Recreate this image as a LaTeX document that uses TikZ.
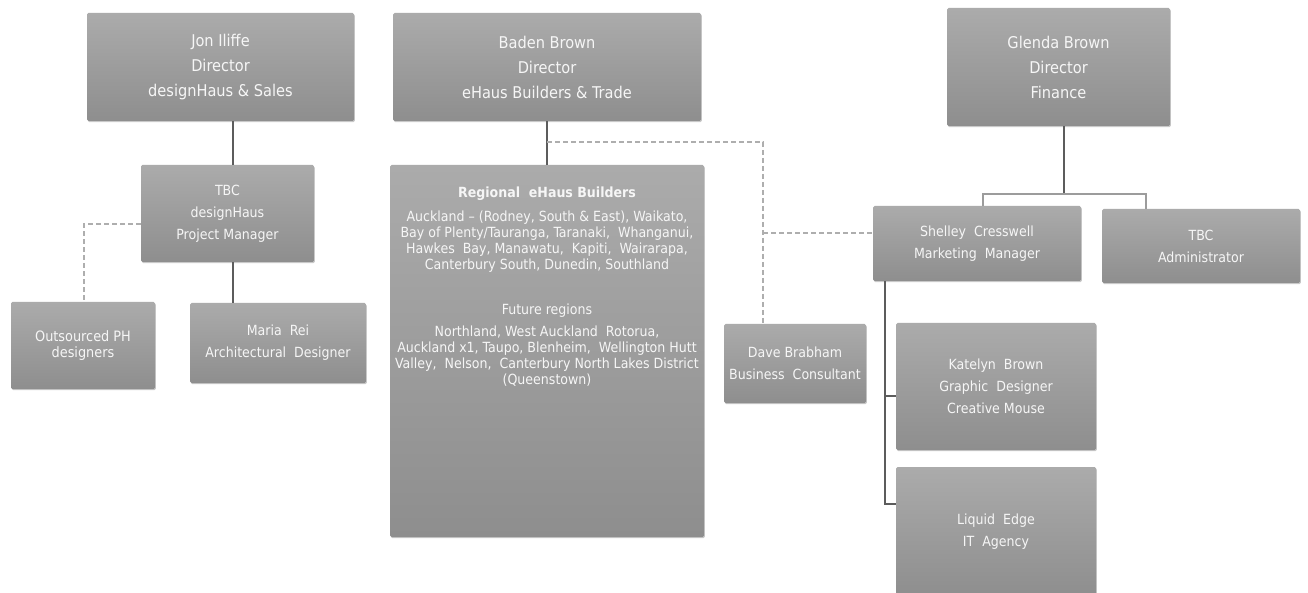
\documentclass[tikz,border=0pt]{standalone}
\usepackage{fontspec}
\setmainfont{DejaVu Sans Condensed}
\usetikzlibrary{shadows,calc}
\definecolor{boxtop}{HTML}{ABABAB}
\definecolor{boxbot}{HTML}{8E8E8E}
\definecolor{txt}{HTML}{F6F6F6}
\definecolor{solidln}{HTML}{5C5C5C}
\definecolor{lightln}{HTML}{9C9C9C}
\definecolor{dashln}{HTML}{AEAEAE}
\tikzset{
 orgbox/.style={rectangle, rounded corners=1.5pt, top color=boxtop, bottom color=boxbot, draw=none, text=txt, align=center, inner sep=0pt,
   drop shadow={shadow xshift=0.8pt, shadow yshift=-1.2pt, opacity=0.3, fill=black!70}},
 bigtxt/.style={font=\fontsize{16.2}{25}\selectfont},
 midtxt/.style={font=\fontsize{14}{22}\selectfont},
 smalltxt/.style={font=\fontsize{14.3}{16}\selectfont},
 tinytxt/.style={font=\fontsize{14}{16}\selectfont},
 solidlink/.style={draw=solidln, line width=1.5pt},
 lightlink/.style={draw=lightln, line width=1.2pt},
 dashlink/.style={draw=dashln, line width=1.7pt, dash pattern=on 5pt off 3pt},
}
\begin{document}
\begin{tikzpicture}[x=1pt,y=-1pt]
\useasboundingbox (0,0) rectangle (1308,593);
% boxes
\node[orgbox,bigtxt,minimum width=267pt,minimum height=108pt] (jon) at (220.5,67) {Jon Iliffe\\Director\\designHaus \& Sales};
\node[orgbox,bigtxt,minimum width=308pt,minimum height=108pt] (baden) at (547,67) {Baden Brown\\Director\\eHaus Builders \& Trade};
\node[orgbox,bigtxt,minimum width=223pt,minimum height=118pt] (glenda) at (1058.5,67) {Glenda Brown\\Director\\Finance};
\node[orgbox,midtxt,minimum width=173pt,minimum height=97pt] (tbc) at (227.5,213.5) {TBC\\designHaus\\Project Manager};
\node[orgbox,smalltxt,minimum width=144pt,minimum height=87pt] (outs) at (83,345.5) {Outsourced PH\\designers};
\node[orgbox,midtxt,minimum width=176pt,minimum height=80pt] (maria) at (278,343) {Maria\ \ Rei\\Architectural\ \ Designer};
\node[orgbox,minimum width=314pt,minimum height=372pt] (regional) at (547,351) {};
\node[text=txt,tinytxt,align=center,inner sep=0pt] (regtext) at (547,287) {\textbf{Regional\ \ eHaus Builders}\\[8pt]
Auckland -- (Rodney, South \& East), Waikato,\\
Bay of Plenty/Tauranga, Taranaki,\ \ Whanganui,\\
Hawkes\ \ Bay, Manawatu,\ \ Kapiti,\ \ Wairarapa,\\
Canterbury South, Dunedin, Southland\\[29pt]
Future regions\\[6pt]
Northland, West Auckland\ \ Rotorua,\\
Auckland x1, Taupo, Blenheim,\ \ Wellington Hutt\\
Valley,\ \ Nelson,\ \ Canterbury North Lakes District\\
(Queenstown)};
\node[orgbox,midtxt,minimum width=142pt,minimum height=79pt] (dave) at (795,363.5) {Dave Brabham\\Business\ \ Consultant};
\node[orgbox,midtxt,minimum width=208pt,minimum height=75pt] (shelley) at (977,243.5) {Shelley\ \ Cresswell\\Marketing\ \ Manager};
\node[orgbox,midtxt,minimum width=198pt,minimum height=74pt] (admin) at (1201,246) {TBC\\Administrator};
\node[orgbox,midtxt,minimum width=200pt,minimum height=127pt] (katelyn) at (996,386.5) {Katelyn\ \ Brown\\Graphic\ \ Designer\\Creative Mouse};
\node[orgbox,midtxt,minimum width=200pt,minimum height=129pt] (liquid) at (996,531.5) {Liquid\ \ Edge\\IT\ \ Agency};
% connectors
\coordinate (jx) at (233,0);
\draw[solidlink] (jon.south -| jx) -- (tbc.north -| jx);
\draw[solidlink] (tbc.south -| jx) -- (maria.north -| jx);
\coordinate (od) at (84,224);
\draw[dashlink] (tbc.west |- od) -- (od) -- (outs.north -| od);
\draw[solidlink] (baden.south) -- (regional.north);
\coordinate (bd1) at (547,142);
\coordinate (bd2) at (763,142);
\coordinate (bd3) at (763,233);
\draw[dashlink] (bd1) -- (bd2) -- (dave.north -| bd2);
\draw[dashlink] (bd3) -- (shelley.west |- bd3);
\coordinate (gj) at (1064,194);
\coordinate (gs) at (983,194);
\coordinate (ga) at (1146,194);
\draw[solidlink] (glenda.south -| gj) -- (gj);
\draw[lightlink] (shelley.north -| gs) -- (gs) -- (ga) -- (admin.north -| ga);
\coordinate (sk) at (885,396);
\coordinate (sv) at (885,504);
\draw[solidlink,line width=1.2pt] (shelley.south -| sv) -- (sv) -- (liquid.west |- sv);
\draw[solidlink,line width=1.2pt] (sk) -- (katelyn.west |- sk);
\end{tikzpicture}
\end{document}
